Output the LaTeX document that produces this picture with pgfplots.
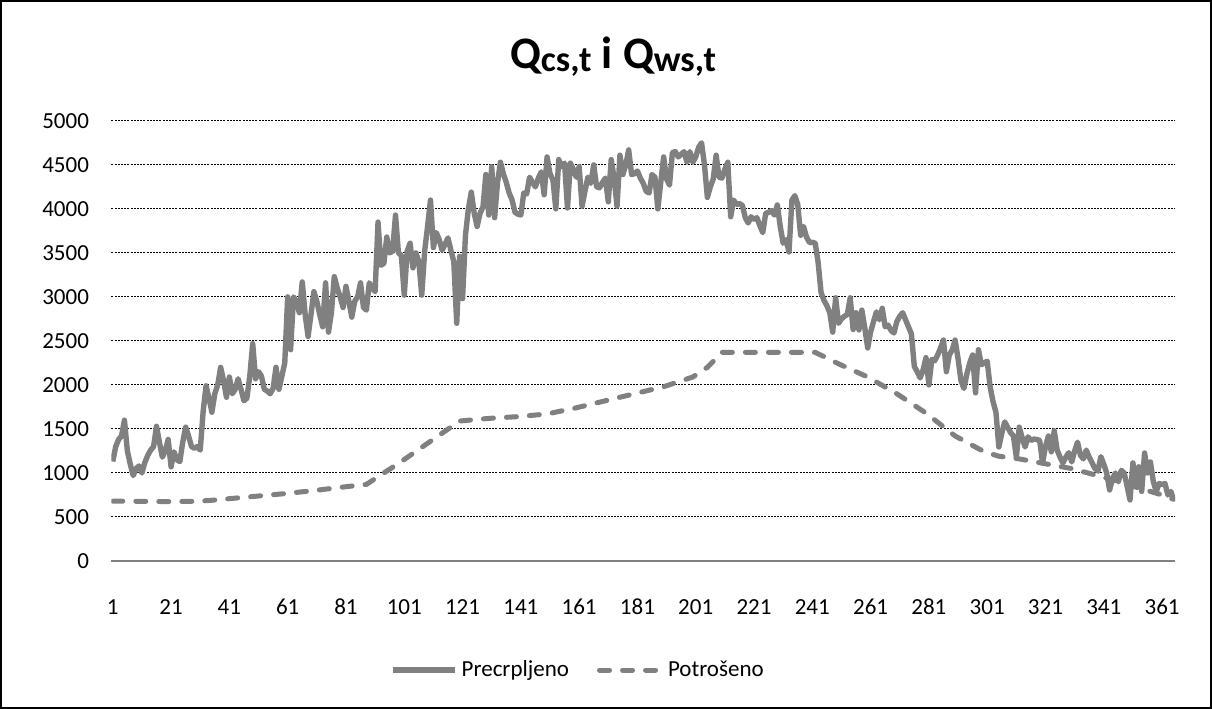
\documentclass[border=0pt]{standalone}
\usepackage{pgfplots}
\pgfplotsset{compat=1.18}
\usepackage{pgfplotstable}
\usepackage{fontspec}
\setmainfont{Carlito}
\definecolor{lgray}{HTML}{808080}
\pgfplotstableread{
d v
1 1130
2 1300
3 1380
4 1420
5 1600
6 1250
7 1100
8 970
9 1050
10 1080
11 1000
12 1120
13 1200
14 1260
15 1300
16 1530
17 1350
18 1180
19 1250
20 1380
21 1070
22 1240
23 1150
24 1130
25 1350
26 1520
27 1420
28 1300
29 1280
30 1300
31 1260
32 1700
33 1990
34 1850
35 1690
36 1900
37 2000
38 2200
39 2050
40 1860
41 2090
42 1900
43 1950
44 2070
45 1950
46 1820
47 1850
48 2100
49 2470
50 2070
51 2150
52 2100
53 1950
54 1930
55 1900
56 1960
57 2200
58 1950
59 2100
60 2250
61 3000
62 2400
63 3000
64 2950
65 2820
66 3170
67 2800
68 2550
69 2800
70 3060
71 2950
72 2800
73 2660
74 3160
75 2600
76 2820
77 3230
78 3100
79 3000
80 2880
81 3120
82 2950
83 2770
84 2950
85 3000
86 3160
87 2880
88 2850
89 3160
90 3100
91 3060
92 3850
93 3360
94 3380
95 3680
96 3500
97 3520
98 3930
99 3500
100 3470
101 3020
102 3520
103 3610
104 3330
105 3500
106 3400
107 3020
108 3520
109 3800
110 4100
111 3560
112 3730
113 3650
114 3530
115 3600
116 3670
117 3530
118 3400
119 2700
120 3460
121 2980
122 3700
123 4000
124 4190
125 3950
126 3800
127 3950
128 4020
129 4390
130 3930
131 4480
132 3900
133 4300
134 4530
135 4400
136 4300
137 4180
138 4100
139 3960
140 3940
141 3930
142 4180
143 4170
144 4360
145 4300
146 4250
147 4350
148 4420
149 4160
150 4590
151 4400
152 4330
153 4000
154 4560
155 4480
156 4520
157 4010
158 4520
159 4450
160 4360
161 4480
162 4030
163 4200
164 4360
165 4290
166 4500
167 4250
168 4240
169 4300
170 4350
171 4080
172 4560
173 4350
174 4030
175 4610
176 4390
177 4500
178 4670
179 4390
180 4400
181 4430
182 4350
183 4290
184 4200
185 4180
186 4390
187 4360
188 4000
189 4300
190 4590
191 4340
192 4270
193 4640
194 4650
195 4590
196 4620
197 4650
198 4530
199 4650
200 4530
201 4590
202 4700
203 4750
204 4500
205 4130
206 4250
207 4340
208 4610
209 4360
210 4350
211 4450
212 4530
213 3910
214 4100
215 4050
216 4060
217 4040
218 3900
219 3840
220 3910
221 3880
222 3900
223 3810
224 3730
225 3950
226 3960
227 3980
228 3930
229 4045
230 3800
231 3610
232 3650
233 3510
234 4100
235 4150
236 4050
237 3700
238 3800
239 3680
240 3620
241 3620
242 3610
243 3390
244 3050
245 2960
246 2900
247 2820
248 2600
249 2990
250 2700
251 2750
252 2780
253 2800
254 2990
255 2630
256 2820
257 2625
258 2850
259 2650
260 2420
261 2600
262 2720
263 2830
264 2740
265 2870
266 2660
267 2680
268 2620
269 2590
270 2720
271 2780
272 2820
273 2740
274 2660
275 2580
276 2210
277 2150
278 2080
279 2170
280 2310
281 2000
282 2290
283 2275
284 2340
285 2420
286 2510
287 2150
288 2340
289 2400
290 2510
291 2300
292 2050
293 1960
294 2120
295 2250
296 2340
297 1910
298 2400
299 2230
300 2250
301 2270
302 1980
303 1810
304 1690
305 1295
306 1450
307 1580
308 1520
309 1460
310 1420
311 1180
312 1520
313 1400
314 1295
315 1410
316 1370
317 1385
318 1380
319 1370
320 1114
321 1300
322 1420
323 1240
324 1480
325 1260
326 1180
327 1114
328 1180
329 1230
330 1125
331 1250
332 1350
333 1200
334 1160
335 1260
336 1180
337 1114
338 1050
339 1020
340 1185
341 1100
342 1000
343 807
344 940
345 1000
346 900
347 1030
348 1000
349 850
350 693
351 1114
352 850
353 1070
354 790
355 1227
356 1000
357 1125
358 900
359 790
360 880
361 870
362 880
363 750
364 790
365 693
}\precrpljeno
\pgfplotstableread{
d v
1 680
10 678
20 675
30 678
35 690
40 705
50 735
60 765
70 800
80 840
88 870
100 1130
110 1360
120 1590
130 1620
140 1640
150 1670
160 1740
170 1820
180 1900
190 1980
200 2090
205 2200
210 2370
242 2370
250 2240
260 2090
270 1900
280 1680
290 1420
300 1240
305 1190
312 1160
320 1110
330 1050
340 960
350 860
360 760
365 700
}\potroseno
\begin{document}
\begin{tikzpicture}[x=1pt,y=1pt]
\draw[black, line width=0.8pt] (0.5,0.5) rectangle (605.5,354);
\begin{axis}[
  at={(55.75pt,74pt)}, anchor=south west,
  scale only axis, width=531.75pt, height=220pt,
  xmin=0.5, xmax=365.5, ymin=0, ymax=5000,
  xtick={1,21,...,361}, ytick={0,500,...,5000},
  axis x line=bottom, axis y line=left,
  x axis line style={draw=lgray, line width=0.6pt, -},
  y axis line style={draw=none},
  major tick length=0pt,
  ymajorgrids,
  grid style={black, line width=0.5pt, dash pattern=on 1pt off 0.6pt},
  /pgf/number format/assume math mode=true,
  /pgf/number format/set thousands separator={},
  tick label style={font=\fontsize{11.5}{13}\selectfont, inner sep=0pt},
  yticklabel style={anchor=east, xshift=-11pt},
  xticklabel style={anchor=base, yshift=-26.5pt},
  title={\bfseries\fontsize{22.5}{26}\selectfont Q\raisebox{-1.3pt}{\fontsize{18}{20}\selectfont cs,t} i Q\raisebox{-1.3pt}{\fontsize{18}{20}\selectfont ws,t}},
  title style={at={(0.4716,1)}, anchor=base, yshift=20pt, inner sep=0pt},
  legend style={at={(0.4396,-0.2477)}, anchor=center, draw=none, fill=none,
    legend columns=2, font=\fontsize{11.5}{13}\selectfont,
    /tikz/every even column/.append style={column sep=12pt}},
  legend image code/.code={\draw[#1] (0pt,0pt) -- (31pt,0pt);},
]
\addplot[color=lgray, line width=2.7pt, line join=round] table[x=d,y=v] {\precrpljeno};
\addlegendentry{Precrpljeno}
\addplot[color=lgray, line width=2.5pt, line cap=round, dash pattern=on 5pt off 6.5pt] table[x=d,y=v] {\potroseno};
\addlegendentry{Potrošeno}
\end{axis}
\end{tikzpicture}
\end{document}
